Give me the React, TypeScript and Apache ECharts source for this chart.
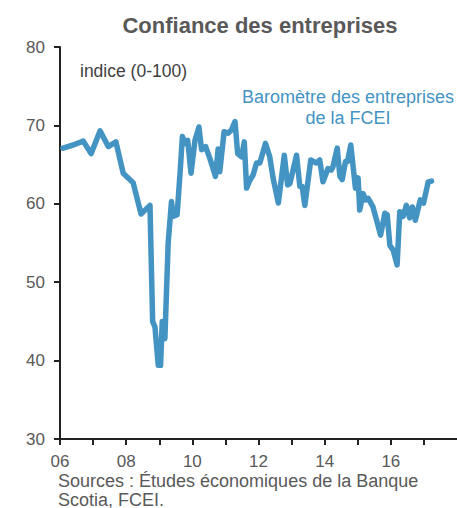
import React, { useEffect, useRef } from "react";
import * as echarts from "echarts";

const years: number[] = [
  2006.09, 2006.4, 2006.7, 2006.94, 2007.21, 2007.46, 2007.69, 2007.91, 2008.21, 2008.45,
  2008.72, 2008.8, 2008.87, 2008.97, 2009.04, 2009.09, 2009.17, 2009.27, 2009.37, 2009.42,
  2009.54, 2009.63, 2009.7, 2009.78, 2009.86, 2009.96, 2010.08, 2010.2, 2010.28, 2010.4,
  2010.53, 2010.7, 2010.78, 2010.83, 2010.96, 2011.08, 2011.18, 2011.29, 2011.37, 2011.49,
  2011.57, 2011.64, 2011.74, 2011.84, 2011.94, 2012.04, 2012.21, 2012.34, 2012.44, 2012.6,
  2012.78, 2012.88, 2012.95, 2013.15, 2013.25, 2013.32, 2013.4, 2013.58, 2013.75, 2013.85,
  2013.95, 2014.1, 2014.2, 2014.25, 2014.38, 2014.46, 2014.53, 2014.63, 2014.69, 2014.79,
  2014.93, 2015.01, 2015.06, 2015.16, 2015.24, 2015.31, 2015.37, 2015.46, 2015.57, 2015.69,
  2015.82, 2015.89, 2015.97, 2016.07, 2016.19, 2016.27, 2016.37, 2016.47, 2016.57, 2016.65,
  2016.74, 2016.89, 2016.99, 2017.13, 2017.23,
];

const barometre: number[] = [
  67.1, 67.5, 68.0, 66.4, 69.3, 67.3, 67.9, 63.9, 62.7, 58.7,
  59.8, 45.0, 44.3, 39.4, 39.4, 45.0, 42.8, 55.0, 60.3, 58.4,
  58.6, 64.0, 68.6, 67.7, 68.1, 63.9, 68.1, 69.8, 66.9, 67.3,
  65.8, 63.5, 67.0, 64.1, 69.2, 69.0, 69.4, 70.5, 66.4, 66.0,
  67.9, 62.0, 63.0, 63.7, 65.2, 65.2, 67.7, 66.0, 63.3, 60.1,
  66.2, 62.4, 62.6, 66.2, 62.2, 62.2, 59.8, 65.6, 65.2, 65.6,
  62.8, 64.5, 64.3, 64.7, 67.1, 63.5, 63.1, 65.4, 65.4, 67.5,
  62.0, 63.3, 59.2, 61.3, 60.5, 60.7, 60.3, 59.6, 57.9, 56.0,
  58.8, 58.6, 54.7, 54.1, 52.2, 59.0, 58.4, 59.8, 58.2, 59.6,
  57.9, 60.5, 60.1, 62.8, 62.9,
];

const labeledYears: number[] = [2006, 2008, 2010, 2012, 2014, 2016];

const FONT = "'Liberation Sans', Arial, sans-serif";
const TEXT = "#595959";
const BLUE = "#4393c3";

export default function App() {
  const ref = useRef<HTMLDivElement>(null);
  useEffect(() => {
    document.body.style.margin = "0";
    if (!ref.current) return;
    const chart = echarts.init(ref.current, undefined, { renderer: "svg" });
    chart.setOption({
      animation: false,
      textStyle: { fontFamily: FONT },
      title: {
        text: "Confiance des entreprises",
        left: 255,
        textAlign: "center",
        top: 9,
        textStyle: { fontFamily: FONT, fontSize: 22, fontWeight: "bold", color: TEXT },
      },
      grid: { left: 60, right: 0, top: 47, bottom: 69, containLabel: false },
      xAxis: {
        type: "value",
        min: 2006,
        max: 2018,
        interval: 1,
        axisLine: { show: true, lineStyle: { color: "#222", width: 2 } },
        axisTick: { show: true, length: 6, lineStyle: { color: "#222", width: 2 } },
        splitLine: { show: false },
        axisLabel: {
          fontFamily: FONT,
          fontSize: 17,
          color: TEXT,
          margin: 14,
          showMaxLabel: false,
          formatter: (v: number) =>
            labeledYears.indexOf(Math.round(v)) >= 0 ? String(Math.round(v)).slice(2) : "",
        },
      },
      yAxis: {
        type: "value",
        min: 30,
        max: 80,
        interval: 10,
        axisLine: { show: true, lineStyle: { color: "#222", width: 2 } },
        axisTick: { show: true, length: 6, lineStyle: { color: "#222", width: 2 } },
        splitLine: { show: false },
        axisLabel: { fontFamily: FONT, fontSize: 17, color: TEXT, margin: 15 },
      },
      series: [
        {
          type: "line",
          data: years.map((y, i) => [y, barometre[i]]),
          showSymbol: false,
          symbol: "none",
          lineStyle: { color: BLUE, width: 5.5, join: "round", cap: "round" },
          itemStyle: { color: BLUE },
        },
      ],
      graphic: [
        {
          type: "text",
          left: 80,
          top: 62,
          style: { text: "indice (0-100)", font: `17.5px ${FONT}`, fill: "#404040" },
        },
        {
          type: "text",
          x: 348,
          y: 86,
          style: {
            text: "Baromètre des entreprises\nde la FCEI",
            font: `18px ${FONT}`,
            fill: BLUE,
            align: "center",
            lineHeight: 21,
          },
        },
        {
          type: "text",
          left: 58,
          top: 471,
          style: {
            text: "Sources : Études économiques de la Banque\nScotia, FCEI.",
            font: `18px ${FONT}`,
            fill: TEXT,
            lineHeight: 19,
          },
        },
      ],
    });
    return () => chart.dispose();
  }, []);
  return <div ref={ref} style={{ width: 457, height: 508 }} />;
}
